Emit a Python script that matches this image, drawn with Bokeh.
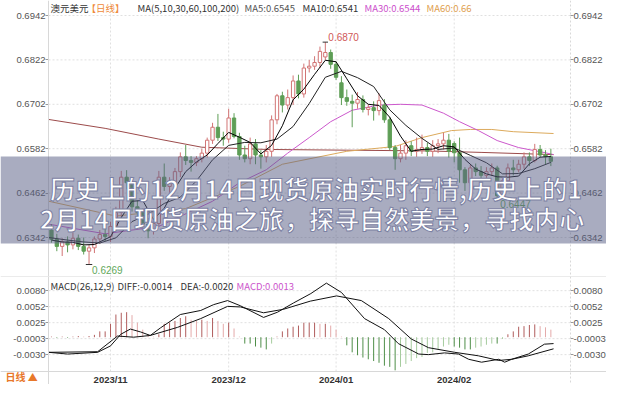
import numpy as np
from bokeh.plotting import figure
from bokeh.models import (Range1d, LinearAxis, FixedTicker, BoxAnnotation, Span,
                          Label, ColumnDataSource)
from bokeh.layouts import column
from bokeh.embed import file_html
from bokeh.resources import INLINE

# ---------------- data ----------------
dates = ["2023-10-17","2023-10-18","2023-10-19","2023-10-20","2023-10-23","2023-10-24","2023-10-25",
         "2023-10-26","2023-10-27","2023-10-30","2023-10-31",
         "2023-11-01","2023-11-02","2023-11-03","2023-11-06","2023-11-07","2023-11-08","2023-11-09",
         "2023-11-10","2023-11-13","2023-11-14","2023-11-15","2023-11-16","2023-11-17","2023-11-20",
         "2023-11-21","2023-11-22","2023-11-23","2023-11-24","2023-11-27","2023-11-28","2023-11-29","2023-11-30",
         "2023-12-01","2023-12-04","2023-12-05","2023-12-06","2023-12-07","2023-12-08","2023-12-11",
         "2023-12-12","2023-12-13","2023-12-14","2023-12-15","2023-12-18","2023-12-19","2023-12-20",
         "2023-12-21","2023-12-22","2023-12-26","2023-12-27","2023-12-28","2023-12-29",
         "2024-01-02","2024-01-03","2024-01-04","2024-01-05","2024-01-08","2024-01-09","2024-01-10",
         "2024-01-11","2024-01-12","2024-01-15","2024-01-16","2024-01-17","2024-01-18","2024-01-19",
         "2024-01-22","2024-01-23","2024-01-24","2024-01-25","2024-01-26","2024-01-29","2024-01-30","2024-01-31",
         "2024-02-01","2024-02-02","2024-02-05","2024-02-06","2024-02-07","2024-02-08","2024-02-09",
         "2024-02-12","2024-02-13","2024-02-14","2024-02-15","2024-02-16","2024-02-19","2024-02-20",
         "2024-02-21","2024-02-22","2024-02-23","2024-02-26","2024-02-27"]

opens = [.6362,.6337,.6318,.6330,.6322,.6340,.6318,.6305,.6314,.6338,.6350,
         .6345,.6372,.6410,.6505,.6490,.6425,.6410,.6378,.6360,.6380,.6505,.6480,.6490,.6520,
         .6560,.6550,.6545,.6555,.6570,.6605,.6640,.6612,
         .6608,.6665,.6615,.6565,.6555,.6595,.6565,.6560,.6575,.6660,.6725,.6700,.6720,.6765,
         .6730,.6800,.6805,.6815,.6830,.6842,
         .6810,.6760,.6720,.6710,.6705,.6715,.6688,.6693,.6685,.6700,.6660,.6585,.6555,.6570,
         .6590,.6575,.6580,.6585,.6575,.6590,.6595,.6605,
         .6596,.6571,.6525,.6490,.6530,.6520,.6510,.6520,.6530,.6450,.6495,.6530,.6525,.6540,
         .6560,.6550,.6580,.6565,.6560]
highs = [.6378,.6352,.6340,.6345,.6356,.6350,.6342,.6322,.6345,.6362,.6368,
         .6385,.6425,.6522,.6524,.6502,.6442,.6420,.6395,.6392,.6522,.6542,.6505,.6530,.6572,
         .6592,.6562,.6562,.6582,.6612,.6652,.6676,.6628,
         .6690,.6678,.6625,.6590,.6612,.6608,.6578,.6592,.6672,.6730,.6736,.6742,.6780,.6782,
         .6812,.6822,.6832,.6858,.6870,.6850,
         .6818,.6778,.6742,.6728,.6735,.6726,.6702,.6710,.6732,.6716,.6668,.6592,.6592,.6605,
         .6602,.6612,.6620,.6598,.6605,.6608,.6625,.6622,
         .6602,.6612,.6532,.6538,.6542,.6535,.6532,.6542,.6536,.6502,.6542,.6552,.6552,.6572,
         .6572,.6595,.6592,.6578,.6582]
lows = [.6328,.6305,.6292,.6302,.6310,.6308,.6296,.6269,.6300,.6325,.6332,
        .6330,.6360,.6398,.6472,.6412,.6392,.6368,.6340,.6350,.6372,.6468,.6452,.6478,.6505,
        .6538,.6520,.6535,.6545,.6558,.6595,.6603,.6590,
        .6598,.6610,.6552,.6545,.6540,.6540,.6528,.6545,.6560,.6648,.6680,.6688,.6700,.6718,
        .6720,.6788,.6795,.6800,.6822,.6798,
        .6768,.6700,.6698,.6640,.6690,.6680,.6672,.6658,.6672,.6652,.6578,.6525,.6545,.6552,
        .6562,.6560,.6568,.6562,.6560,.6570,.6580,.6558,
        .6545,.6490,.6468,.6480,.6508,.6498,.6498,.6508,.6447,.6452,.6488,.6510,.6518,.6528,
        .6535,.6545,.6558,.6540,.6535]
closes = [.6337,.6318,.6330,.6322,.6340,.6318,.6305,.6314,.6338,.6350,.6345,
          .6372,.6410,.6505,.6490,.6425,.6410,.6378,.6360,.6380,.6505,.6480,.6490,.6520,.6560,
          .6550,.6545,.6555,.6570,.6605,.6640,.6612,.6608,
          .6665,.6615,.6565,.6555,.6595,.6565,.6560,.6575,.6660,.6725,.6700,.6720,.6765,.6730,
          .6800,.6805,.6815,.6845,.6842,.6810,
          .6775,.6720,.6710,.6705,.6715,.6688,.6693,.6685,.6712,.6660,.6585,.6555,.6570,.6590,
          .6575,.6580,.6585,.6575,.6590,.6595,.6605,.6575,
          .6571,.6525,.6490,.6530,.6520,.6510,.6520,.6530,.6455,.6495,.6530,.6525,.6540,.6560,
          .6550,.6580,.6565,.6560,.6548]

# moving averages (position index, value)
ma5_x = [0,2,4,6,8,11,13,15,17,19,21,23,25,27,29,31,33,35,37,39,41,43,45,47,49,51,53,55,57,59,
         61,63,65,67,69,71,73,75,77,79,81,83,85,87,89,91,93]
ma5_y = [.6335,.6330,.6329,.6322,.6323,.6344,.6396,.6440,.6442,.6391,.6421,.6475,.6520,.6546,
         .6565,.6596,.6626,.6613,.6599,.6568,.6591,.6644,.6714,.6743,.6783,.6821,.6817,.6771,
         .6725,.6702,.6699,.6667,.6616,.6575,.6580,.6581,.6590,.6587,.6553,.6527,.6514,.6506,
         .6505,.6508,.6541,.6559,.6561]
ma10_x = [-0.5,3,6,9,12,15,18,21,24,27,30,33,36,39,42,45,48,51,54,57,60,63,66,69,72,75,78,81,
          84,87,90,93]
ma10_y = [.6342,.6335,.6330,.6327,.6341,.6385,.6405,.6434,.6451,.6495,.6552,.6591,.6599,.6598,
          .6608,.6642,.6704,.6775,.6791,.6774,.6750,.6687,.6645,.6610,.6580,.6584,.6564,.6544,
          .6514,.6515,.6528,.6545]
ma30_x = [-0.5,10,20,30,35,40,44,48,52,56,61,65,69,73,76,79.5,83,87,92,93.5]
ma30_y = [.6378,.6352,.6372,.6440,.6490,.6525,.6570,.6612,.6655,.6686,.6700,.6702,.6700,.6678,
          .6655,.6631,.6604,.6585,.6571,.6566]
ma60_x = [-0.5,12,25,35,43,55,64,69,74.5,78,82,86,93.5]
ma60_y = [.6440,.6400,.6420,.6480,.6540,.6575,.6588,.6612,.6631,.6634,.6634,.6628,.6623]
ma200_x = [-0.5,10,20,28,40,55,70,80,93.5]
ma200_y = [.6661,.6637,.6608,.6586,.6580,.6578,.6576,.6572,.6566]

# MACD lines
diff_x = [-0.5,3,8.6,11,12.9,14.7,16.6,18.4,20.3,24,27.8,30.2,32.8,35.2,39.5,42.1,45.1,48.3,
          51.2,54,58.3,62,64.6,68.4,70.2,73.2,75.8,77.7,80.1,83.3,84.4,85.7,88.8,91.8,93.5]
diff_y = [-.0026,-.0029,-.0026,-.0015,.0005,.0014,.0009,.0003,.0016,.0039,.0046,.0056,.0063,
          .0054,.0034,.0043,.0059,.0075,.0093,.0077,.0032,.0013,-.0011,-.0029,-.0030,-.0027,
          -.0029,-.0038,-.0043,-.0038,-.0043,-.0038,-.0029,-.0012,-.0011]
dea_x = [-0.5,8.6,12.3,15.3,18.4,23.5,27.8,32.8,35.2,39.5,43.2,48.2,53.1,57.7,62.8,67,70.2,
         75.1,79.5,83.3,85.7,88.8,93.5]
dea_y = [-.0026,-.0025,.0002,.0000,.0003,.0017,.0032,.0053,.0052,.0042,.0048,.0062,.0071,.0063,
         .0032,-.0003,-.0018,-.0026,-.0032,-.0040,-.0038,-.0032,-.0020]
macd_hist = [0.0001,-0.0001,0.0001,-0.0001,0.0001,0.0002,0.0001,0.0002,0.0004,
             0.0010,0.0010,0.0023,0.0039,0.0042,0.0043,0.0038,0.0025,0.0013,0.0005,0.0001,0.0005,
             0.0023,0.0025,0.0028,0.0033,0.0036,0.0030,0.0028,0.0030,0.0028,0.0033,0.0028,0.0023,
             0.0025,0.0015,0.0001,
             -0.0011,-0.0011,-0.0016,-0.0018,-0.0021,-0.0011,0.0001,
             0.0010,0.0015,0.0018,0.0020,0.0025,0.0025,0.0025,0.0023,0.0023,0.0020,0.0013,0.0001,
             -0.0014,-0.0026,-0.0031,-0.0035,-0.0038,-0.0041,-0.0044,-0.0049,-0.0051,-0.0057,
             -0.0051,-0.0046,-0.0041,-0.0036,-0.0034,-0.0027,-0.0026,-0.0021,-0.0016,-0.0013,
             -0.0016,-0.0018,-0.0021,-0.0021,-0.0018,-0.0016,-0.0013,-0.0011,-0.0011,-0.0003,
             0.0005,0.0010,0.0018,0.0019,0.0021,0.0022,0.0019,0.0017,0.0013]

price_ticks = [0.6342, 0.6462, 0.6582, 0.6702, 0.6822, 0.6942]
price_labels = ["0.6342", "0.6462", "0.6582", "0.6702", "0.6822", "0.6942"]
macd_ticks = [-0.0030, -0.00025, 0.0025, 0.00525, 0.0080]
macd_labels = ["-0.0030", "-0.0003", "0.0025", "0.0052", "0.0080"]
month_labels = ["2023/11", "2023/12", "2024/01", "2024/02"]
month_keys = ["2023-11", "2023-12", "2024-01", "2024-02"]
feb_low_date = "2024-02-13"

title_texts = ["澳元美元", "【日线】", "MA(5,10,30,60,100,200)", "MA5:0.6545", "MA10:0.6541",
               "MA30:0.6544", "MA60:0.66"]
macd_texts = ["MACD(26,12,9)", "DIFF:-0.0014", "DEA:-0.0020", "MACD:0.0013"]
banner_lines = ["历史上的12月14日现货原油实时行情,历史上的1",
                "2月14日现货原油之旅，探寻自然美景，寻找内心"]
corner_text = "日线 ▲"

# ---------------- layout constants ----------------
W = 606
H1, H2 = 276, 108
PL, PR = 48, 570              # plot-area left / right edge in pixels
PXX = 5.37                    # pixels per candle slot
X0 = -0.55                    # data x at the plot-area left edge
XR = X0 + (PR - PL) / PXX     # data x at the plot-area right edge
XS = X0 - PL / PXX            # data x at the canvas left edge
XE = XS + W / PXX
PPY = 3700.0                  # pixels per price unit
Y1 = 0.6942 + 15 / PPY
Y0 = Y1 - H1 / PPY
MPY = 5814.0                  # pixels per MACD unit
M1 = 0.01044
MB = M1 - 95 / MPY            # MACD plot-area bottom
M0 = M1 - H2 / MPY

def fx(px):
    return XS + px / PXX

def fy(py):
    return Y1 - py / PPY

def my(py):
    return M1 - py / MPY

UP, DN = "#d27474", "#5e9e56"
GRID = "#e0e0e0"
BORDER = "#d8d8d8"
AX_FONT = "Liberation Sans"
CJK = "Noto Sans CJK SC"

n = len(dates)
xi = np.arange(n)
o = np.array(opens); c = np.array(closes)
up = c >= o
src = ColumnDataSource(dict(
    x=xi, h=highs, l=lows,
    top=np.maximum(o, c), bottom=np.minimum(o, c),
    line=[UP if u else DN for u in up],
    fill=["white" if u else DN for u in up],
))

month_pos = [next(i for i, d in enumerate(dates) if d.startswith(k)) for k in month_keys]

xr = Range1d(XS, XE)

def style_y(ax, ticks, labels):
    ax.ticker = FixedTicker(ticks=ticks)
    ax.major_label_overrides = dict(zip(ticks, labels))
    ax.axis_line_color = None
    ax.major_tick_line_color = "#999999"
    ax.major_tick_out = 3
    ax.major_tick_in = 0
    ax.minor_tick_line_color = None
    ax.major_label_text_font = AX_FONT
    ax.major_label_text_font_size = "9.5px"
    ax.major_label_text_color = "#555555"
    ax.major_label_standoff = 0

def frame_lines(fig, ticks, y_lo, y_hi):
    fig.segment(x0=[X0] * len(ticks), y0=ticks, x1=[XR] * len(ticks), y1=ticks,
                color=GRID, line_dash="2 2", line_width=1, level="underlay")
    fig.segment(x0=month_pos, y0=[y_lo] * len(month_pos), x1=month_pos,
                y1=[y_hi] * len(month_pos), color=GRID, line_dash="2 2", line_width=1,
                level="underlay")
    fig.add_layout(Span(location=X0, dimension="height", line_color=BORDER, line_width=1))
    fig.add_layout(Span(location=XR, dimension="height", line_color=BORDER, line_width=1,
                        line_dash="2 2"))

# ---------------- price panel ----------------
p = figure(width=W, height=H1, x_range=xr, y_range=Range1d(Y0, Y1), x_axis_location=None,
           toolbar_location=None, output_backend="svg", min_border=0, outline_line_color=None)
p.xgrid.visible = False
p.ygrid.visible = False
p.yaxis[0].fixed_location = X0
p.add_layout(LinearAxis(fixed_location=XR), "right")
for ax in p.yaxis:
    style_y(ax, price_ticks, price_labels)
frame_lines(p, price_ticks, Y0, Y1)

p.line(ma200_x, ma200_y, color="#9c4b4b", line_width=1)
p.line(ma60_x, ma60_y, color="#dcaa5c", line_width=1)
p.line(ma30_x, ma30_y, color="#cc58cc", line_width=1)
p.segment(x0="x", y0="h", x1="x", y1="l", color="line", line_width=1, source=src)
p.vbar(x="x", width=0.62, top="top", bottom="bottom", fill_color="fill", line_color="line",
       line_width=1, source=src)
p.line(ma10_x, ma10_y, color="#222222", line_width=1)
p.line(ma5_x, ma5_y, color="#000000", line_width=1)

# extreme markers
ih = int(np.argmax(highs)); il = int(np.argmin(lows)); i2 = dates.index(feb_low_date)
p.segment(x0=[ih - 0.5], y0=[highs[ih]], x1=[ih + 0.5], y1=[highs[ih]], color="#333333", line_width=1)
p.segment(x0=[il - 0.6, i2 - 0.6], y0=[lows[il], lows[i2]], x1=[il + 0.6, i2 + 0.6],
          y1=[lows[il], lows[i2]], color="#333333", line_width=1)
p.add_layout(Label(x=ih, y=highs[ih], x_offset=3, y_offset=1, text=f"{highs[ih]:.4f}",
                   text_baseline="bottom", text_color="#d05858", text_font=AX_FONT,
                   text_font_size="10px"))
for k in (il, i2):
    p.add_layout(Label(x=k, y=lows[k], x_offset=3, y_offset=-1, text=f"{lows[k]:.4f}",
                       text_baseline="top", text_color="#62a85a", text_font=AX_FONT,
                       text_font_size="10px"))

# header
title_px = [50, 86, 137, 244, 302, 364, 426]
title_col = ["#333333", "#ef8a3a", "#333333", "#555555", "#333333", "#cc4fcc", "#e0a050"]
for t, px, col in zip(title_texts, title_px, title_col):
    p.add_layout(Label(x=fx(px), y=fy(7), text=t, text_baseline="middle", text_color=col,
                       text_font=CJK, text_font_size="9.5px"))

# overlay banner
p.add_layout(BoxAnnotation(top=fy(156), bottom=fy(243), fill_color="#5a6087", fill_alpha=0.52,
                           line_color=None, level="overlay"))
for t, px, py in zip(banner_lines, [315.5, 311.5], [187, 217]):
    lbl = Label(x=fx(px), y=fy(py), text=t, text_align="center", text_baseline="middle",
                text_color="white", text_font=CJK, text_font_style="bold",
                text_font_size="25px", level="overlay")
    try:
        lbl.text_outline_color = "#7c81a3"
    except AttributeError:
        pass
    p.add_layout(lbl)

# ---------------- MACD panel ----------------
q = figure(width=W, height=H2, x_range=xr, y_range=Range1d(M0, M1), toolbar_location=None,
           output_backend="svg", min_border=0, outline_line_color=None)
q.xgrid.visible = False
q.ygrid.visible = False
q.yaxis[0].fixed_location = X0
q.add_layout(LinearAxis(fixed_location=XR), "right")
for ax in q.yaxis:
    style_y(ax, macd_ticks, macd_labels)
xa = q.xaxis[0]
xa.fixed_location = MB
xa.ticker = FixedTicker(ticks=month_pos)
xa.major_label_overrides = dict(zip(month_pos, month_labels))
xa.major_label_text_align = "left"
xa.major_label_text_font = AX_FONT
xa.major_label_text_font_style = "bold"
xa.major_label_text_font_size = "9.5px"
xa.major_label_text_color = "#333333"
xa.major_label_standoff = 2
xa.major_tick_out = 0
xa.major_tick_in = 0
xa.minor_tick_line_color = None
xa.axis_line_color = None
frame_lines(q, macd_ticks, MB, M1)
q.add_layout(Span(location=M1, dimension="width", line_color=BORDER, line_width=1))
q.segment(x0=[XS], y0=[MB], x1=[XE], y1=[MB], color=BORDER, line_width=1)

hist = np.array(macd_hist)
prev = np.concatenate([[0.0], hist[:-1]])
hcol = []
for v, pv in zip(hist, prev):
    if v >= 0:
        hcol.append("#b05c5c" if v >= pv else "#e4aaaa")
    else:
        hcol.append("#4e8e48" if v <= pv else "#a6cc9e")
q.segment(x0=xi, y0=np.zeros(n), x1=xi, y1=hist, color=hcol, line_width=1)
q.line(dea_x, dea_y, color="#111111", line_width=1)
q.line(diff_x, diff_y, color="#111111", line_width=1)

macd_px = [50, 117, 180, 236]
macd_col = ["#333333", "#333333", "#333333", "#cc55cc"]
for t, px, col in zip(macd_texts, macd_px, macd_col):
    q.add_layout(Label(x=fx(px), y=my(9), text=t, text_baseline="middle", text_color=col,
                       text_font=CJK, text_font_size="9.5px"))
q.add_layout(Label(x=fx(5), y=my(100), text=corner_text, text_baseline="middle",
                   text_color="#e8782a", text_font=CJK, text_font_style="bold",
                   text_font_size="10px"))

layout = column(p, q, spacing=0)
open("out.html", "w").write(file_html(layout, INLINE))
